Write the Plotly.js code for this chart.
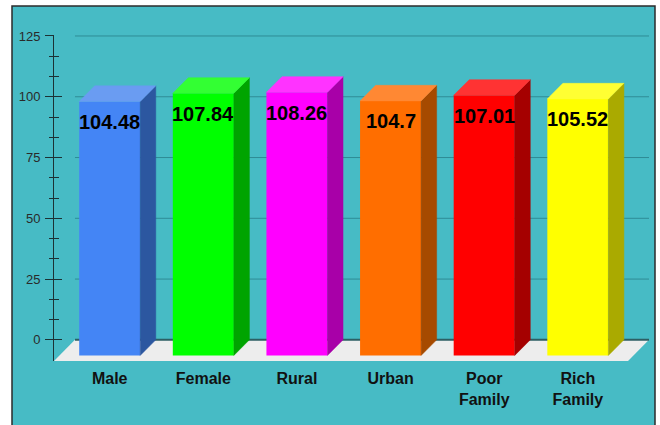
<!DOCTYPE html>
<html>
<head>
<meta charset="utf-8">
<script src="https://cdn.plot.ly/plotly-3.0.1.min.js"></script>
<style>html,body{margin:0;padding:0;background:#fff;}#chart{width:660px;height:425px;}</style>
</head>
<body>
<div id="chart"></div>
<script>
// ---- data ----
const categories = ['Male', 'Female', 'Rural', 'Urban', 'Poor Family', 'Rich Family'];
const tickLabels = ['Male', 'Female', 'Rural', 'Urban', 'Poor<br>Family', 'Rich<br>Family'];
const values = [104.48, 107.84, 108.26, 104.7, 107.01, 105.52];
const yTicks = [0, 25, 50, 75, 100, 125];

// ---- styles ----
const frontColors = ['#4485F5', '#00FF00', '#FF00FF', '#FF6E00', '#FF0000', '#FFFF00'];
const sideColors  = ['#2C57A0', '#00A400', '#A800A8', '#A64A00', '#A50000', '#AAAA00'];
const topColors   = ['#6A9CF2', '#33FF33', '#FF33FF', '#FF8833', '#FF3333', '#FFFF33'];
const FONT = 'Liberation Sans, Arial, sans-serif';

// ---- geometry (3D look) ----
const BAR_W = 0.652;      // front face width (category units)
const DX = 0.166;         // depth offset, x (category units)
const DY = 6.4;           // depth offset, y (value units)
const FLOOR_DX = 0.224;   // floor depth, x
const X_RANGE = [-0.595, 5.76];
const Y_RANGE = [-8.7, 125.4];

const idx = categories.map((_, i) => i);

const traces = [];
// front faces
traces.push({
  type: 'bar', x: idx, y: values, base: values.map(() => -DY), width: BAR_W,
  marker: {color: frontColors, line: {width: 0}}, hoverinfo: 'skip', name: 'front'
});
// side and top faces
values.forEach((v, i) => {
  const r = i + BAR_W / 2, l = i - BAR_W / 2;
  traces.push({
    type: 'scatter', mode: 'lines', yaxis: 'y2',
    x: [r, r + DX, r + DX, r, r], y: [-DY, 0, v, v - DY, -DY],
    fill: 'toself', fillcolor: sideColors[i], line: {color: sideColors[i], width: 0.5},
    hoverinfo: 'skip', name: categories[i] + ' side'
  });
  traces.push({
    type: 'scatter', mode: 'lines', yaxis: 'y2',
    x: [l, l + DX, r + DX, r, l], y: [v - DY, v, v, v - DY, v - DY],
    fill: 'toself', fillcolor: topColors[i], line: {color: topColors[i], width: 0.5},
    hoverinfo: 'skip', name: categories[i] + ' top'
  });
});

// value labels
const annotations = values.map((v, i) => ({
  x: i, y: v - DY, xref: 'x', yref: 'y', text: String(v), showarrow: false,
  yanchor: 'middle', xanchor: 'center', yshift: -20.5,
  font: {family: FONT, size: 20, color: '#000', weight: 'bold'}
}));

// minor ticks: thirds between majors
const minorTicks = [];
for (let k = 0; k < yTicks.length - 1; k++) {
  const a = yTicks[k], b = yTicks[k + 1];
  minorTicks.push(a + (b - a) / 3, a + 2 * (b - a) / 3);
}

// plot-area pixel geometry for the frame shape
const W = 660, H = 425, M = {l: 54, r: 11, t: 35, b: 64};
const pw = W - M.l - M.r, ph = H - M.t - M.b;
const px = p => (p - M.l) / pw;
const py = p => (H - M.b - p) / ph;

const shapes = [];
shapes.push({
  type: 'rect', xref: 'paper', yref: 'paper', layer: 'below',
  x0: px(12), x1: px(655), y0: py(432), y1: py(6),
  fillcolor: '#47BBC5', line: {color: '#2b2b2b', width: 1.5}
});
shapes.push({
  type: 'path', xref: 'x', yref: 'y', layer: 'below',
  path: `M ${X_RANGE[0]},${Y_RANGE[0]} L ${X_RANGE[0] + FLOOR_DX},0 L ${X_RANGE[1]},0 L ${X_RANGE[1] - FLOOR_DX},${Y_RANGE[0]} Z`,
  fillcolor: '#EDEDED', line: {width: 0}
});
yTicks.forEach(t => {
  shapes.push({
    type: 'line', xref: 'x', yref: 'y', layer: 'below',
    x0: X_RANGE[0] + FLOOR_DX, x1: X_RANGE[1], y0: t, y1: t,
    line: {color: t === 0 ? '#2d5e63' : '#2F8C96', width: t === 0 ? 2 : 1}
  });
});

const axisColor = '#1c3235';
const layout = {
  width: W, height: H, margin: Object.assign({pad: 0}, M),
  paper_bgcolor: '#ffffff', plot_bgcolor: 'rgba(0,0,0,0)',
  showlegend: false, barmode: 'overlay',
  xaxis: {
    range: X_RANGE, tickmode: 'array', tickvals: idx, ticktext: tickLabels,
    showgrid: false, zeroline: false, showline: false, ticks: '',
    tickfont: {family: FONT, size: 16, color: '#111', weight: 'bold'},
    ticklabelstandoff: 6, fixedrange: true
  },
  yaxis: {
    range: Y_RANGE, tickmode: 'array', tickvals: yTicks,
    ticks: 'outside', ticklen: 8, tickwidth: 1, tickcolor: axisColor,
    showline: true, linecolor: axisColor, linewidth: 1,
    showgrid: false, zeroline: false,
    minor: {tickmode: 'array', tickvals: minorTicks, ticks: 'outside', ticklen: 4.5, tickcolor: axisColor, showgrid: false},
    tickfont: {family: FONT, size: 13, color: '#2a2a2a'}, ticklabelstandoff: 2, fixedrange: true
  },
  yaxis2: {
    range: Y_RANGE, overlaying: 'y', side: 'left', anchor: 'x', tickmode: 'array', tickvals: yTicks,
    ticks: 'inside', ticklen: 8, tickwidth: 1, tickcolor: axisColor,
    showticklabels: false, showline: false, showgrid: false, zeroline: false,
    minor: {tickmode: 'array', tickvals: minorTicks, ticks: 'inside', ticklen: 4.5, tickcolor: axisColor, showgrid: false},
    fixedrange: true
  },
  shapes: shapes, annotations: annotations
};

Plotly.newPlot('chart', traces, layout, {displayModeBar: false, staticPlot: true});
</script>
</body>
</html>
